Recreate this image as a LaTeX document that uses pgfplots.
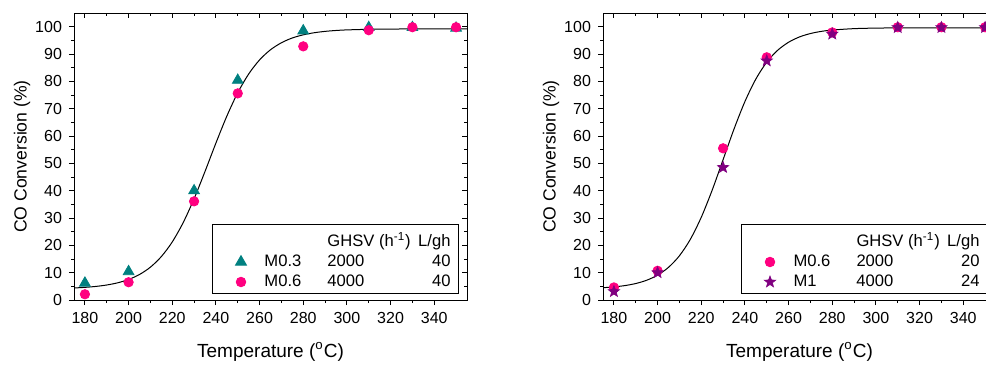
\documentclass[border=0pt]{standalone}
\usepackage{fontspec}
\setmainfont{Liberation Sans}
\usepackage{pgfplots}
\pgfplotsset{compat=1.18}
\definecolor{tealm}{RGB}{0,128,128}
\definecolor{pinkm}{RGB}{255,0,128}
\definecolor{purpm}{RGB}{128,0,128}
\pgfdeclareplotmark{fstar}{%
  \pgfpathmoveto{\pgfpointpolar{90}{\pgfplotmarksize}}%
  \pgfpathlineto{\pgfpointpolar{126}{0.42\pgfplotmarksize}}%
  \pgfpathlineto{\pgfpointpolar{162}{\pgfplotmarksize}}%
  \pgfpathlineto{\pgfpointpolar{198}{0.42\pgfplotmarksize}}%
  \pgfpathlineto{\pgfpointpolar{234}{\pgfplotmarksize}}%
  \pgfpathlineto{\pgfpointpolar{270}{0.42\pgfplotmarksize}}%
  \pgfpathlineto{\pgfpointpolar{306}{\pgfplotmarksize}}%
  \pgfpathlineto{\pgfpointpolar{342}{0.42\pgfplotmarksize}}%
  \pgfpathlineto{\pgfpointpolar{18}{\pgfplotmarksize}}%
  \pgfpathlineto{\pgfpointpolar{54}{0.42\pgfplotmarksize}}%
  \pgfpathclose\pgfusepathqfillstroke}
\pgfplotsset{
  base/.style={scale only axis, width=196.5pt, height=143.5pt,
    xmin=175, xmax=355, ymin=0, ymax=105,
    xtick={180,200,...,340}, ytick={0,10,...,100},
    minor x tick num=1, minor y tick num=1, anchor=south west,
    axis line style={line width=0.5pt},
    every tick/.style={black, line width=0.5pt},
    major tick length=2.5pt, minor tick length=1.5pt,
    /pgf/number format/assume math mode=true,
    tick label style={font=\fontsize{8}{9.6}\selectfont}},
  mainax/.style={base, tick align=outside, xtick pos=left, ytick pos=left,
    xlabel={Temperature (\textsuperscript{o}C)},
    ylabel={CO Conversion (\%)},
    every axis x label/.style={at={(axis description cs:0.5,-0.181)}, anchor=center,
      font=\fontsize{9.5}{11}\selectfont},
    every axis y label/.style={at={(axis description cs:-0.132,0.5)}, anchor=center,
      rotate=90, font=\fontsize{8.8}{10}\selectfont},
    legend style={at={(axis description cs:1,0)}, anchor=south east,
      xshift=-4pt, yshift=3pt, draw=black, line width=0.5pt,
      inner xsep=3pt, inner ysep=1pt,
      nodes={inner xsep=1pt, inner ysep=0.5pt, text height=6.5pt, text depth=2pt},
      font=\fontsize{8.3}{9.5}\selectfont, row sep=0.5pt},
    legend cell align=left},
  mirror/.style={base, tick align=inside, xtick pos=right, ytick pos=right,
    xticklabels={}, yticklabels={}, axis line style={draw=none}},
  mlegend/.style={legend image code/.code={%
      \path (-11pt,0pt) (10.5pt,0pt);
      \draw[##1] plot coordinates {(0pt,0pt)};}},
}
\newcommand{\lrow}[3]{\makebox[31.5pt][l]{#1}\makebox[45pt][l]{#2}\makebox[16.5pt][r]{#3}}
\newcommand{\hrow}{\rule{0pt}{9.5pt}\lrow{}{GHSV (h\textsuperscript{-1})}{L/gh}}
\begin{document}
\begin{tikzpicture}
\clip (0,0) rectangle (493pt,183pt);
% ---------------- left panel
\begin{axis}[mainax, at={(37pt,33pt)}]
\addlegendimage{empty legend}
\addlegendentry[text height=9.5pt]{\hrow}
\addplot[only marks, mark=triangle*, mark size=3.1pt, color=tealm, mlegend] coordinates {
(180,6.2) (200,10.4) (230,40.0) (250,80.4) (280,98.5) (310,99.7) (330,99.7) (350,99.5)};
\addlegendentry{\lrow{M0.3}{2000}{40}}
\addplot[only marks, mark=*, mark size=2.35pt, color=pinkm, mlegend] coordinates {
(180,2.1) (200,6.5) (230,36.1) (250,75.6) (280,92.8) (310,98.7) (330,99.8) (350,99.8)};
\addlegendentry{\lrow{M0.6}{4000}{40}}
\addplot[black, line width=0.5pt, smooth, forget plot] coordinates {
(175,4.40) (180,4.63) (185,4.97) (190,5.49) (195,6.29) (200,7.51) (205,9.33)
(210,12.02) (215,15.89) (220,21.24) (225,28.31) (230,37.04) (235,47.02)
(240,57.42) (245,67.27) (250,75.83) (255,82.68) (260,87.85) (265,91.55)
(270,94.12) (275,95.87) (280,97.02) (285,97.78) (290,98.28) (295,98.61)
(300,98.82) (310,99.04) (320,99.13) (330,99.17) (340,99.19) (350,99.20) (355,99.20)};
\end{axis}
\begin{axis}[mirror, at={(37pt,33pt)}]
\end{axis}
% ---------------- right panel
\begin{axis}[mainax, at={(301.5pt,33pt)}]
\addlegendimage{empty legend}
\addlegendentry[text height=9.5pt]{\hrow}
\addplot[only marks, mark=*, mark size=2.35pt, color=pinkm, mlegend] coordinates {
(180,4.6) (200,10.7) (230,55.5) (250,88.8) (280,97.9) (310,99.8) (330,99.8) (350,99.8)};
\addlegendentry{\lrow{M0.6}{2000}{20}}
\addplot[only marks, mark=fstar, mark size=3pt, color=purpm, line width=0.3pt, mlegend] coordinates {
(180,3.1) (200,10.0) (230,48.5) (250,87.5) (280,97.3) (310,99.7) (330,99.7) (350,99.7)};
\addlegendentry{\lrow{M1}{4000}{24}}
\addplot[black, line width=0.5pt, smooth, forget plot] coordinates {
(175,4.50) (180,4.80) (185,5.27) (190,6.03) (195,7.23) (200,9.10) (205,11.95)
(210,16.18) (215,22.19) (220,30.25) (225,40.19) (230,51.34) (235,62.54)
(240,72.61) (245,80.83) (250,87.01) (255,91.37) (260,94.31) (265,96.25)
(270,97.49) (275,98.28) (280,98.77) (290,99.28) (300,99.48) (310,99.55)
(320,99.58) (330,99.60) (340,99.60) (350,99.60) (355,99.60)};
\end{axis}
\begin{axis}[mirror, at={(301.5pt,33pt)}]
\end{axis}
\end{tikzpicture}
\end{document}
